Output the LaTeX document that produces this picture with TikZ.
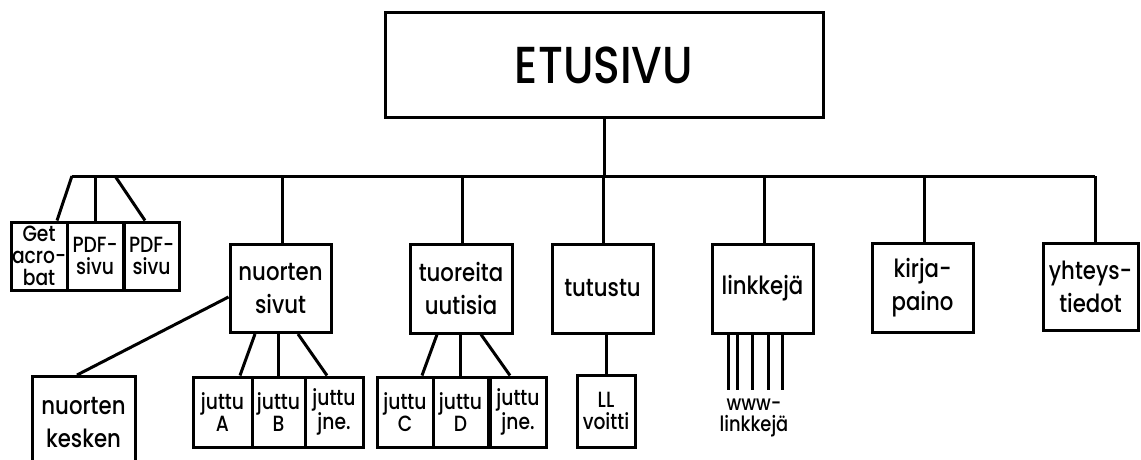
\documentclass[tikz,border=0pt]{standalone}
\usepackage{fontspec}
\setmainfont{Poppins}[UprightFont=* Medium, FakeStretch=0.85]
\begin{document}
\begin{tikzpicture}[x=1pt, y=-1pt, line width=3pt,
  boite/.style={draw, line width=3pt, inner sep=0pt, align=center,
    font=\fontsize{25}{33}\selectfont},
  petite/.style={boite, font=\fontsize{22}{22}\selectfont}]
  \useasboundingbox (0,0) rectangle (1141,460);

  % Dessinez la page principale
  \node[boite, minimum width=438pt, minimum height=104pt,
    font=\fontsize{52}{56}\selectfont] (etusivu) at (604,65) {ETUSIVU};

  % Ajoutez les boites du premier niveau
  \node[petite, minimum width=56pt, minimum height=68pt] (acro) at (39,256) {Get\\acro-\\bat};
  \node[petite, minimum width=56pt, minimum height=68pt] (pdfa) at (95,256) {PDF-\\sivu};
  \node[petite, minimum width=55pt, minimum height=68pt] (pdfb) at (151.5,256) {PDF-\\sivu};
  \node[boite, minimum width=101pt, minimum height=88pt] (nsivut) at (280.5,288.5) {nuorten\\sivut};
  \node[boite, minimum width=102pt, minimum height=89pt] (tuoreet) at (461,288.5) {tuoreita\\uutisia};
  \node[boite, minimum width=101pt, minimum height=89pt] (tutustu) at (602.5,288.5) {tutustu};
  \node[boite, minimum width=101pt, minimum height=89pt] (linkit) at (762.5,288.5) {linkkejä};
  \node[boite, minimum width=101pt, minimum height=89pt] (kirja) at (922.5,287.5) {kirja-\\paino};
  \node[boite, minimum width=95pt, minimum height=87pt] (yht) at (1090.5,286.5) {yhteys-\\tiedot};

  % Ajoutez les boites du second niveau
  \node[boite, minimum width=103pt, minimum height=92pt, anchor=north] (nkesken) at (83.5,375) {nuorten\\kesken};
  \node[petite, minimum width=59pt, minimum height=70pt] (jA) at (222.5,412) {juttu\\A};
  \node[petite, minimum width=53pt, minimum height=70pt] (jB) at (278.5,412) {juttu\\B};
  \node[petite, minimum width=58pt, minimum height=70pt] (jjneA) at (334,412) {juttu\\jne.};
  \node[petite, minimum width=56pt, minimum height=70pt] (jC) at (405,412) {juttu\\C};
  \node[petite, minimum width=55pt, minimum height=70pt] (jD) at (460.5,412) {juttu\\D};
  \node[petite, minimum width=56pt, minimum height=70pt] (jjneB) at (518,412) {juttu\\jne.};
  \node[petite, minimum width=58pt, minimum height=72pt] (ll) at (606,411) {LL\\voitti};
  \node[align=center, font=\fontsize{21}{21}\selectfont] (www) at (754,418) {www-\\linkkejä};

  % Dessinez la ligne horizontale
  \coordinate (busG) at (72,176);
  \coordinate (busD) at (1095,176);
  \draw (busG) -- (busD);
  \draw (etusivu.south) -- (etusivu.south |- busG);

  % Reliez les boites du premier niveau
  \foreach \n/\dx in {nsivut/2, tuoreet/1, tutustu/0.5, linkit/1.5, kirja/1.5, yht/4.5} {
    \draw ([xshift=\dx pt]\n.north) -- ([xshift=\dx pt]\n.north |- busG);
  }
  \draw (busG) -- ([xshift=18pt]acro.north);
  \draw (pdfa.north) -- (pdfa.north |- busG);
  \draw ([xshift=20pt]pdfa.north |- busG) -- ([xshift=-6.5pt]pdfb.north);

  % Reliez les boites du second niveau
  \draw (nsivut.west |- 0,297) -- ([xshift=-6.5pt]nkesken.north);
  \draw ([xshift=-25.5pt]nsivut.south) -- ([xshift=17.5pt]jA.north);
  \draw (jB.north) -- (jB.north |- nsivut.south);
  \draw ([xshift=17.5pt]nsivut.south) -- ([xshift=-7pt]jjneA.north);
  \draw ([xshift=-24pt]tuoreet.south) -- ([xshift=17pt]jC.north);
  \draw (jD.north) -- (jD.north |- tuoreet.south);
  \draw ([xshift=20pt]tuoreet.south) -- ([xshift=-8pt]jjneB.north);
  \draw (ll.north) -- (ll.north |- tutustu.south);

  % Ajoutez les liens www
  \foreach \dx in {-34.5,-25.5,-10.5,5.5,19.5} {
    \draw ([xshift=\dx pt]linkit.south) -- ++(0,55);
  }
\end{tikzpicture}
\end{document}
